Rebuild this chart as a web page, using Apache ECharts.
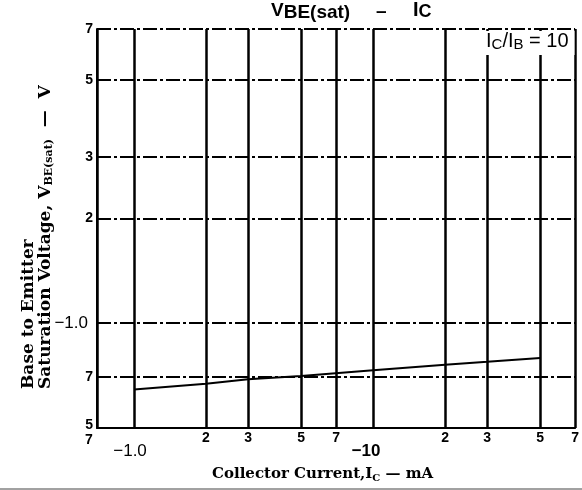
<!DOCTYPE html>
<html>
<head>
<meta charset="utf-8">
<script src="https://cdn.jsdelivr.net/npm/echarts@6/dist/echarts.min.js"></script>
<style>
  html, body { margin: 0; padding: 0; background: #fff; }
  #chart { width: 582px; height: 490px; }
</style>
</head>
<body>
<div id="chart"></div>
<script>
// tick positions and their printed labels (datasheet style, PNP so some carry a minus)
const xTicks = [0.7, 1, 2, 3, 5, 7, 10, 20, 30, 50, 70];
const xTickLabels = ['7', '−1.0', '2', '3', '5', '7', '−10', '2', '3', '5', '7'];
const yTicks = [0.5, 0.7, 1, 2, 3, 5, 7];
const yTickLabels = ['5', '7', '−1.0', '2', '3', '5', '7'];

// VBE(sat) curve, IC/IB = 10
const currentMA = [1, 2, 3, 5, 10, 20, 30, 50];
const vbeSat = [0.645, 0.67, 0.69, 0.705, 0.733, 0.76, 0.775, 0.795];

const serif = '"DejaVu Serif", "Liberation Serif", serif';
const sans = '"Liberation Sans", Arial, sans-serif';

function tickIndex(ticks, v) {
  let best = 0;
  ticks.forEach((t, i) => {
    if (Math.abs(Math.log(t / v)) < Math.abs(Math.log(ticks[best] / v))) best = i;
  });
  return best;
}

const chart = echarts.init(document.getElementById('chart'));

chart.setOption({
  animation: false,
  backgroundColor: '#fff',
  grid: { left: 97, right: -5, top: 29, bottom: 62 },
  xAxis: {
    type: 'log',
    min: 0.7,
    max: 70,
    axisLine: { show: true, lineStyle: { color: '#000', width: 2 } },
    axisTick: { show: false, customValues: xTicks },
    axisLabel: {
      customValues: xTicks,
      margin: 3,
      formatter: (v) => {
        const i = tickIndex(xTicks, v);
        const s = xTickLabels[i];
        if (i === 0) return '{a|' + s + '}';
        if (i === 1) return '{b|' + s + '}';
        if (i === 6) return '{c|' + s + '}';
        return '{n|' + s + '}';
      },
      rich: {
        n: { fontFamily: sans, fontWeight: 'bold', fontSize: 14, color: '#000' },
        a: { fontFamily: sans, fontWeight: 'bold', fontSize: 14, color: '#000', padding: [2, 16, 0, 0] },
        b: { fontFamily: sans, fontSize: 17, color: '#000', padding: [12, 8, 0, 0] },
        c: { fontFamily: sans, fontWeight: 'bold', fontSize: 17, color: '#000', padding: [12, 14, 0, 0] }
      }
    },
    splitLine: { show: true, lineStyle: { color: '#000', width: 2.5 } },
    minorSplitLine: { show: false }
  },
  yAxis: {
    type: 'log',
    min: 0.5,
    max: 7,
    axisLine: { show: true, lineStyle: { color: '#000', width: 2 } },
    axisTick: { show: false, customValues: yTicks },
    axisLabel: {
      customValues: yTicks,
      margin: 4,
      formatter: (v) => {
        const i = tickIndex(yTicks, v);
        const s = yTickLabels[i];
        if (i === 0) return '{a|' + s + '}';
        if (i === 2) return '{b|' + s + '}';
        return '{n|' + s + '}';
      },
      rich: {
        n: { fontFamily: sans, fontWeight: 'bold', fontSize: 14, color: '#000' },
        a: { fontFamily: sans, fontWeight: 'bold', fontSize: 14, color: '#000', padding: [0, 0, 6, 0] },
        b: { fontFamily: sans, fontSize: 17, color: '#000', padding: [0, 5, 0, 0] }
      }
    },
    splitLine: { show: true, lineStyle: { color: '#000', width: 2, type: [14, 3, 3, 3] } },
    minorSplitLine: { show: false }
  },
  series: [{
    type: 'line',
    data: currentMA.map((c, i) => [c, vbeSat[i]]),
    showSymbol: false,
    lineStyle: { color: '#000', width: 2 },
    z: 5
  }],
  graphic: [
    {
      type: 'text', left: 271, top: 1, z: 10,
      style: {
        text: '{v|V}{s|BE(sat)}',
        rich: {
          v: { fontFamily: sans, fontWeight: 'bold', fontSize: 19, fill: '#000' },
          s: { fontFamily: sans, fontWeight: 'bold', fontSize: 19, fill: '#000', verticalAlign: 'bottom', padding: [4, 0, 0, 0] }
        }
      }
    },
    {
      type: 'text', left: 376, top: 2, z: 10,
      style: { text: '–', fontFamily: sans, fontWeight: 'bold', fontSize: 19, fill: '#000' }
    },
    {
      type: 'text', left: 413, top: 0, z: 10,
      style: {
        text: '{v|I}{s|C}',
        rich: {
          v: { fontFamily: sans, fontWeight: 'bold', fontSize: 20, fill: '#000' },
          s: { fontFamily: sans, fontWeight: 'bold', fontSize: 18, fill: '#000', verticalAlign: 'bottom', padding: [5, 0, 0, 0] }
        }
      }
    },
    {
      type: 'text', x: 484, y: 31, z: 10,
      style: {
        text: '{v|I}{s|C}{v|/I}{s|B}{v| = 10}',
        backgroundColor: '#fff',
        padding: [0, 6, 3, 2],
        rich: {
          v: { fontFamily: sans, fontSize: 20, fill: '#000' },
          s: { fontFamily: sans, fontSize: 15, fill: '#000', verticalAlign: 'bottom', padding: [6, 0, 0, 0] }
        }
      }
    },
    {
      type: 'text', x: 29, y: 389, rotation: Math.PI / 2, z: 10,
      style: {
        text: 'Base to Emitter',
        fontFamily: serif, fontWeight: 'bold', fontSize: 17, fill: '#000',
        textAlign: 'left', textVerticalAlign: 'middle'
      }
    },
    {
      type: 'text', x: 46, y: 389, rotation: Math.PI / 2, z: 10,
      style: {
        text: '{t|Saturation Voltage, V}{s|BE(sat)}{t|  —  V}',
        textAlign: 'left', textVerticalAlign: 'middle',
        rich: {
          t: { fontFamily: serif, fontWeight: 'bold', fontSize: 17, fill: '#000' },
          s: { fontFamily: serif, fontWeight: 'bold', fontSize: 11, fill: '#000', verticalAlign: 'bottom', padding: [7, 0, 0, 0] }
        }
      }
    },
    {
      type: 'text', left: 212, top: 467, z: 10,
      style: {
        text: '{t|Collector Current,I}{s|C}{t| — mA}',
        rich: {
          t: { fontFamily: serif, fontWeight: 'bold', fontSize: 15, fill: '#000' },
          s: { fontFamily: serif, fontWeight: 'bold', fontSize: 10, fill: '#000', verticalAlign: 'bottom', padding: [8, 0, 0, 0] }
        }
      }
    },
    {
      type: 'line', z: 10,
      shape: { x1: 0, y1: 489, x2: 582, y2: 489 },
      style: { stroke: '#444', lineWidth: 1 }
    }
  ]
});
</script>
</body>
</html>
